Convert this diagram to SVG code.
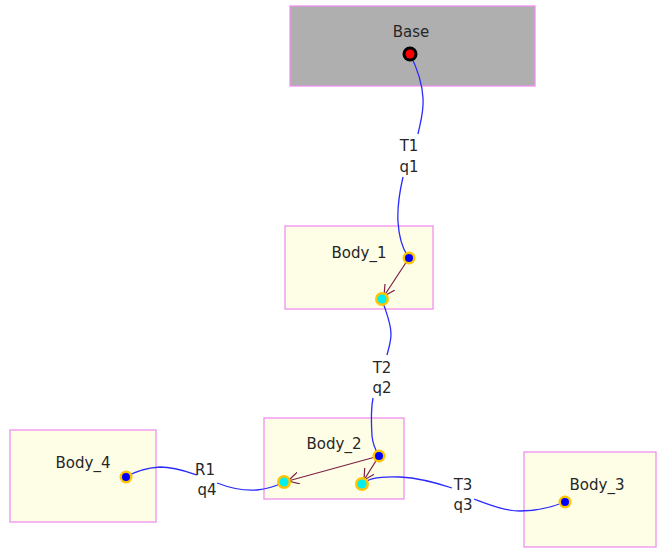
<svg xmlns="http://www.w3.org/2000/svg" width="660" height="548" viewBox="0 0 660 548">
  <style>
    .box { fill: #fefee6; stroke: #f090f0; stroke-width: 1.3; }
    .base { fill: #afafaf; stroke: #f090f0; stroke-width: 1.3; }
    .name { font-family: "DejaVu Sans", "Liberation Sans", sans-serif; font-size: 15px; fill: #262626; text-anchor: middle; }
    .lbl { font-family: "DejaVu Sans", "Liberation Sans", sans-serif; font-size: 15px; fill: #262626; text-anchor: middle; }
    .joint { fill: none; stroke: #2a2aff; stroke-width: 1.3; }
    .frame { fill: none; stroke: #7a1f45; stroke-width: 1.2; }
    .ring { fill: #ffc400; }
    .pin { fill: #0000ff; }
    .tip { fill: #00f0f0; }
  </style>
  <defs>
    <marker id="vhead" viewBox="0 0 12 12" refX="11" refY="6" markerWidth="12" markerHeight="12" markerUnits="userSpaceOnUse" orient="auto">
      <path d="M0,0 L11,6 L0,12" fill="none" stroke="#7a1f45" stroke-width="1.2"/>
    </marker>
  </defs>

  <!-- bodies -->
  <g id="base">
    <rect class="base" x="290" y="6" width="245" height="80"/>
    <text class="name" x="411" y="37">Base</text>
  </g>
  <g id="body1">
    <rect class="box" x="285" y="226" width="148" height="83"/>
    <text class="name" x="359" y="258">Body_1</text>
  </g>
  <g id="body2">
    <rect class="box" x="264" y="418" width="140" height="81"/>
    <text class="name" x="334" y="449">Body_2</text>
  </g>
  <g id="body3">
    <rect class="box" x="524" y="452" width="132" height="95"/>
    <text class="name" x="597" y="490">Body_3</text>
  </g>
  <g id="body4">
    <rect class="box" x="10" y="430" width="146" height="92"/>
    <text class="name" x="83" y="468">Body_4</text>
  </g>

  <!-- joints and body frames -->
  <g id="connectors">
    <!-- T1 -->
    <path class="joint" d="M410,54 C416,66 422,80 423,98 C424,112 420,124 418,134"/>
    <path class="joint" d="M403,177 C400,190 397,205 398,222 C399,238 403,250 409,258"/>
    <!-- T2 -->
    <path class="joint" d="M382,299 C385,310 391,322 391,334 C391,343 388,350 387,355"/>
    <path class="joint" d="M373,398 C371,408 371,420 372,436 C373,446 376,451 379,456"/>
    <!-- T3 -->
    <path class="joint" d="M362,484 C368,478 380,476 400,477 C420,478 440,484 452,488"/>
    <path class="joint" d="M474,499 C490,505 505,511 520,511 C540,511 555,506 565,502"/>
    <!-- R1 -->
    <path class="joint" d="M126,477 C134,472 145,468 160,467 C175,467 188,472 197,475"/>
    <path class="joint" d="M217,483 C230,488 245,491 257,490 C268,489 278,485 284,482"/>

    <!-- frame offsets -->
    <path class="frame" d="M409,258 L384,296" marker-end="url(#vhead)"/>
    <path class="frame" d="M379,456 L288,481" marker-end="url(#vhead)"/>
    <path class="frame" d="M379,456 L364,480" marker-end="url(#vhead)"/>

    <!-- joint labels -->
    <text class="lbl" x="409" y="151">T1</text>
    <text class="lbl" x="409" y="172">q1</text>
    <text class="lbl" x="382" y="373">T2</text>
    <text class="lbl" x="382" y="393">q2</text>
    <text class="lbl" x="205" y="475">R1</text>
    <text class="lbl" x="207" y="495">q4</text>
    <text class="lbl" x="463" y="490">T3</text>
    <text class="lbl" x="463" y="510">q3</text>
  </g>

  <!-- attachment points -->
  <g id="points">
    <circle cx="410" cy="54" r="7.5" fill="#000"/>
    <circle cx="410" cy="54" r="4.5" fill="#ff0000"/>

    <circle class="ring" cx="409" cy="258" r="6.5"/>
    <circle class="pin" cx="409" cy="258" r="4"/>
    <circle class="ring" cx="382" cy="299" r="7"/>
    <circle class="tip" cx="382" cy="299" r="4.5"/>

    <circle class="ring" cx="379" cy="456" r="6.5"/>
    <circle class="pin" cx="379" cy="456" r="4"/>
    <circle class="ring" cx="284" cy="482" r="7"/>
    <circle class="tip" cx="284" cy="482" r="4.5"/>
    <circle class="ring" cx="362" cy="484" r="7"/>
    <circle class="tip" cx="362" cy="484" r="4.5"/>

    <circle class="ring" cx="565" cy="502" r="6.5"/>
    <circle class="pin" cx="565" cy="502" r="4"/>
    <circle class="ring" cx="126" cy="477" r="6.5"/>
    <circle class="pin" cx="126" cy="477" r="4"/>
  </g>
</svg>
